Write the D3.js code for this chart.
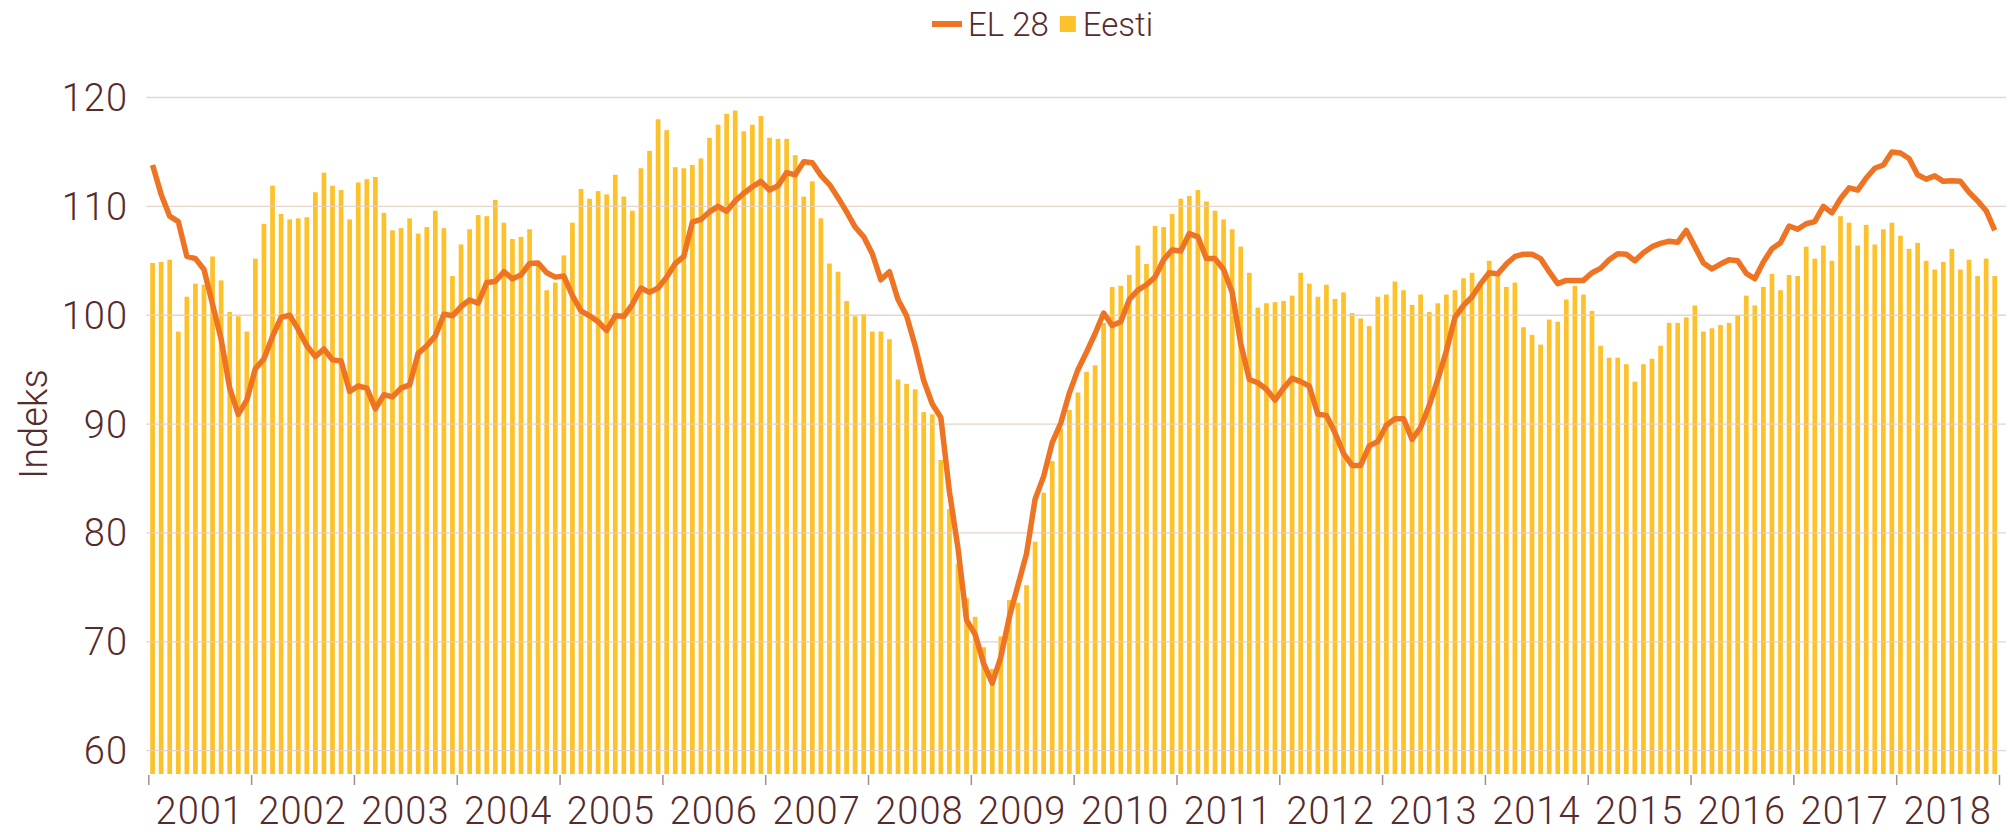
<!DOCTYPE html>
<html>
<head>
<meta charset="utf-8">
<script src="https://cdn.jsdelivr.net/npm/d3@7/dist/d3.min.js"></script>
<style>
  html, body { margin: 0; padding: 0; background: #ffffff; }
  svg { display: block; }
  text { font-family: Roboto, "Open Sans", sans-serif; font-weight: 300; fill: #552c2c; }
</style>
</head>
<body>
<svg id="chart" width="2012" height="832"></svg>
<script>
// ---------- DATA ----------
const years = [2001, 2002, 2003, 2004, 2005, 2006, 2007, 2008, 2009, 2010, 2011, 2012, 2013, 2014, 2015, 2016, 2017, 2018];
const yTicks = [60, 70, 80, 90, 100, 110, 120];
const seriesNames = ["EL 28", "Eesti"];
const yAxisTitle = "Indeks";

// Eesti (bars), monthly Jan 2001 – Dec 2018
const eesti = [
  104.8, 104.9, 105.1, 98.5, 101.7, 102.9, 102.8, 105.4, 103.2, 100.3, 99.9, 98.5,
  105.2, 108.4, 111.9, 109.3, 108.8, 108.9, 109.0, 111.3, 113.1, 111.9, 111.5, 108.8,
  112.2, 112.5, 112.7, 109.4, 107.8, 108.0, 108.9, 107.5, 108.1, 109.6, 108.0, 103.6,
  106.5, 107.9, 109.2, 109.1, 110.6, 108.5, 107.0, 107.2, 107.9, 104.6, 102.3, 103.0,
  105.5, 108.5, 111.6, 110.7, 111.4, 111.1, 112.9, 110.9, 109.6, 113.5, 115.1, 118.0,
  117.0, 113.6, 113.5, 113.8, 114.4, 116.3, 117.5, 118.5, 118.8, 116.9, 117.5, 118.3,
  116.3, 116.2, 116.2, 114.7, 110.9, 112.3, 108.9, 104.75, 104.0, 101.3, 99.9, 100.1,
  98.5, 98.5, 97.8, 94.1, 93.7, 93.2, 91.1, 90.9, 86.7, 82.2, 77.2, 74.0,
  72.3, 69.5, 67.5, 70.5, 73.85, 73.6, 75.2, 79.2, 83.7, 86.6, 89.6, 91.3,
  92.9, 94.8, 95.4, 99.3, 102.6, 102.7, 103.7, 106.4, 104.7, 108.2, 108.1, 109.3,
  110.7, 110.95, 111.5, 110.45, 109.6, 108.8, 107.9, 106.3, 103.9, 100.7, 101.1, 101.2,
  101.3, 101.8, 103.9, 102.9, 101.7, 102.8, 101.5, 102.1, 100.2, 99.7, 99.0, 101.7,
  101.9, 103.1, 102.3, 100.95, 101.9, 100.3, 101.1, 101.9, 102.3, 103.4, 103.9, 102.9,
  105.0, 103.7, 102.6, 103.0, 98.9, 98.2, 97.3, 99.6, 99.4, 101.45, 102.7, 101.9,
  100.4, 97.2, 96.1, 96.1, 95.5, 93.9, 95.5, 96.0, 97.2, 99.3, 99.3, 99.8,
  100.9, 98.5, 98.8, 99.1, 99.3, 100.0, 101.8, 100.9, 102.6, 103.8, 102.3, 103.7,
  103.6, 106.3, 105.2, 106.4, 105.0, 109.1, 108.5, 106.4, 108.3, 106.5, 107.9, 108.5,
  107.3, 106.1, 106.65, 105.0, 104.2, 104.9, 106.1, 104.2, 105.1, 103.6, 105.2, 103.6
];

// EL 28 (line), monthly Jan 2001 – Dec 2018
const el28 = [
  113.8, 111.1, 109.1, 108.6, 105.4, 105.2, 104.2, 101.0, 97.8, 93.3, 90.9, 92.2,
  95.1, 96.0, 98.05, 99.8, 100.0, 98.7, 97.2, 96.2, 96.9, 95.9, 95.8, 93.0,
  93.5, 93.3, 91.4, 92.7, 92.5, 93.3, 93.6, 96.5, 97.2, 98.1, 100.1, 99.95,
  100.8, 101.4, 101.1, 103.0, 103.1, 104.0, 103.35, 103.7, 104.75, 104.8, 103.9, 103.5,
  103.6, 101.8, 100.4, 99.95, 99.4, 98.6, 99.95, 99.9, 101.0, 102.5, 102.1, 102.5,
  103.5, 104.75, 105.4, 108.55, 108.8, 109.5, 110.0, 109.55, 110.5, 111.2, 111.8, 112.3,
  111.5, 111.9, 113.1, 112.9, 114.1, 114.0, 112.85, 112.0, 110.8, 109.5, 108.1, 107.2,
  105.65, 103.25, 104.0, 101.45, 99.95, 97.2, 94.0, 91.85, 90.6, 83.8, 78.6, 72.0,
  70.7, 68.0, 66.2, 68.6, 72.3, 75.2, 78.1, 83.1, 85.2, 88.3, 90.1, 92.85,
  95.0, 96.6, 98.3, 100.2, 99.05, 99.4, 101.45, 102.3, 102.8, 103.5, 105.1, 106.0,
  105.9, 107.5, 107.2, 105.2, 105.2, 104.2, 102.1, 97.4, 94.1, 93.8, 93.2, 92.2,
  93.3, 94.2, 93.9, 93.5, 90.9, 90.8, 89.2, 87.3, 86.2, 86.2, 88.0, 88.4,
  89.9, 90.5, 90.5, 88.6, 89.7, 91.7, 94.1, 96.7, 99.8, 100.9, 101.7, 102.9,
  103.9, 103.8, 104.7, 105.4, 105.6, 105.6, 105.2, 104.0, 102.9, 103.2, 103.2, 103.2,
  103.9, 104.3, 105.1, 105.65, 105.6, 105.0, 105.75, 106.3, 106.6, 106.8, 106.7, 107.8,
  106.3, 104.8, 104.25, 104.7, 105.1, 105.0, 103.85, 103.35, 104.9, 106.1, 106.65, 108.2,
  107.9, 108.4, 108.6, 110.0, 109.4, 110.7, 111.7, 111.5, 112.6, 113.5, 113.8, 115.0,
  114.9, 114.4, 112.9, 112.5, 112.8, 112.3, 112.35, 112.3, 111.3, 110.5, 109.6, 107.8
];

// ---------- LAYOUT ----------
const W = 2012, H = 832;
const plotLeft = 148.3, plotRight = 1999, plotTop = 97.5, plotBottom = 774;
const colors = { line: "#ee7423", bar: "#fdc12c", grid: "#e2d2c6", tick: "#a1908f", text: "#552c2c" };

const svg = d3.select("#chart");
svg.append("rect").attr("width", W).attr("height", H).attr("fill", "#fff");

const idx = d3.range(eesti.length);
const x = d3.scaleBand().domain(idx).range([plotLeft, plotRight]).paddingInner(0.45).paddingOuter(0.225);
const xYear = d3.scaleLinear().domain([years[0], years[years.length - 1] + 1]).range([plotLeft, plotRight]);
const y = d3.scaleLinear().domain([57.86, 120]).range([plotBottom, plotTop]);

// Bars
svg.append("g").selectAll("rect").data(eesti).join("rect")
  .attr("x", (d, i) => x(i))
  .attr("width", x.bandwidth())
  .attr("y", d => y(d))
  .attr("height", d => plotBottom - y(d))
  .attr("fill", colors.bar);

// Gridlines
svg.append("g").selectAll("line").data(yTicks).join("line")
  .attr("x1", plotLeft - 2).attr("x2", 2006)
  .attr("y1", d => y(d)).attr("y2", d => y(d))
  .attr("stroke", colors.grid).attr("stroke-width", 1.3).attr("opacity", 0.9);

// Y tick labels
svg.append("g").selectAll("text").data(yTicks).join("text")
  .attr("x", 128).attr("y", d => y(d)).attr("dy", "0.355em")
  .attr("text-anchor", "end")
  .style("font-size", "38px")
  .style("letter-spacing", "1px")
  .text(d => d);

// Y axis title
svg.append("text")
  .attr("transform", `translate(47, ${y(90)}) rotate(-90)`)
  .attr("text-anchor", "middle")
  .style("font-size", "38px")
  .text(yAxisTitle);

// Line
const line = d3.line()
  .x((d, i) => x(i) + x.bandwidth() / 2)
  .y(d => y(d));
svg.append("path").datum(el28)
  .attr("d", line)
  .attr("fill", "none")
  .attr("stroke", colors.line)
  .attr("stroke-width", 5.5)
  .attr("stroke-linejoin", "round");

// X axis: year boundary ticks
const boundaries = years.concat([years[years.length - 1] + 1]);
const xAxis = svg.append("g").attr("transform", `translate(0, ${plotBottom + 1})`)
  .call(d3.axisBottom(xYear).tickValues(boundaries).tickSize(10).tickFormat(""));
xAxis.select(".domain").remove();
xAxis.selectAll(".tick line").attr("stroke", colors.tick).attr("stroke-width", 1.5);

// Year labels centred in each year
svg.append("g").selectAll("text").data(years).join("text")
  .attr("x", d => xYear(d + 0.5))
  .attr("y", 824)
  .attr("text-anchor", "middle")
  .style("font-size", "38px")
  .style("letter-spacing", "1px")
  .text(d => d);

// Legend
const lg = svg.append("g");
const legendY = 24;
let lx = 932;
lg.append("line").attr("x1", lx).attr("x2", lx + 30).attr("y1", legendY).attr("y2", legendY)
  .attr("stroke", colors.line).attr("stroke-width", 6);
lx += 36;
const t1 = lg.append("text").attr("x", lx).attr("y", legendY).attr("dy", "0.355em")
  .style("font-size", "33px").text(seriesNames[0]);
lx += t1.node().getComputedTextLength() + 11;
lg.append("rect").attr("x", lx).attr("y", legendY - 8).attr("width", 16).attr("height", 16).attr("fill", colors.bar);
lx += 23;
lg.append("text").attr("x", lx).attr("y", legendY).attr("dy", "0.355em")
  .style("font-size", "33px").text(seriesNames[1]);
</script>
</body>
</html>
